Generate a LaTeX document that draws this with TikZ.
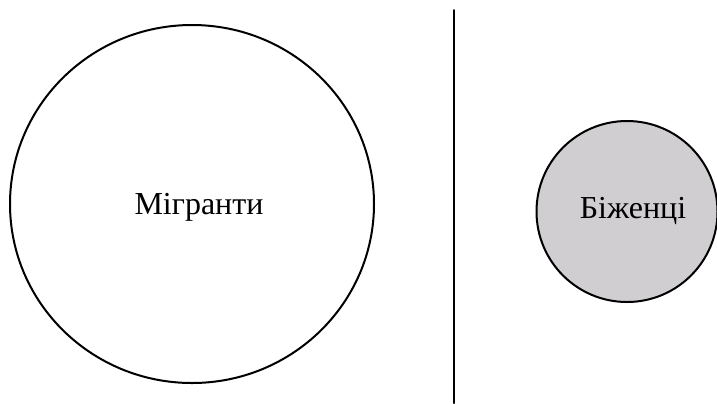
\documentclass[tikz,border=0pt]{standalone}
\usepackage{fontspec}
\setmainfont{Liberation Serif}
\usetikzlibrary{positioning}

\definecolor{refgray}{RGB}{208,206,209}

\begin{document}
\begin{tikzpicture}[
    x=0.5pt, y=-0.5pt,
    line join=round,
    line cap=round,
    font=\fontsize{16}{19}\selectfont,
    outline/.style={draw=black, line width=1pt},
    label text/.style={inner sep=0pt, text=black}
]

  % ==================== PARAMETERS ====================
  \def\xM{192}   % centre of the migrants circle
  \def\yM{204}
  \def\xB{627}   % centre of the refugees circle
  \def\yB{211.5}
  \def\xS{453.5} % separating line

  \useasboundingbox (0,0) rectangle (717,403);
  \clip (0,0) rectangle (717,403);

  % ==================== 1. MIGRANTS ====================
  \draw[outline] (\xM, \yM) ellipse (182 and 179);
  \node[label text] (migrants) at (199, 207) {Мігранти};

  % ==================== 2. SEPARATOR ====================
  \coordinate (septop) at (\xS, 10);
  \coordinate (sepbot) at (\xS, 403);
  \draw[outline] (septop) -- (sepbot);

  % ==================== 3. REFUGEES ====================
  \filldraw[outline, fill=refgray] (\xB, \yB) circle (90.5);
  \node[label text] (refugees) at (633, 211) {Біженці};

\end{tikzpicture}
\end{document}
